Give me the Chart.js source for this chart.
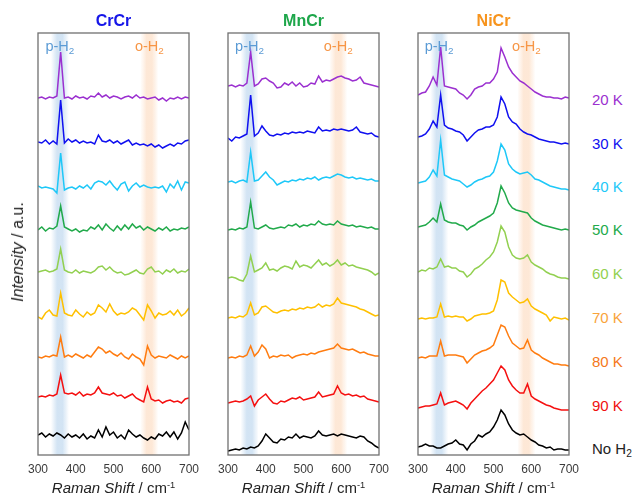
<!DOCTYPE html>
<html>
<head>
<meta charset="utf-8">
<script src="https://cdn.jsdelivr.net/npm/chart.js@4.4.1/dist/chart.umd.min.js"></script>
<style>
  html, body { margin: 0; padding: 0; background: #fff; }
  #wrap { position: relative; width: 633px; height: 495px; overflow: hidden; font-family: "Liberation Sans", Arial, sans-serif; }
  #wrap canvas { position: absolute; top: 0; }
  .txt { position: absolute; white-space: nowrap; line-height: 1; transform: translate(-50%, -50%); }
  .sb { font-size: 0.68em; position: relative; top: 0.28em; }
  .sp { font-size: 0.62em; position: relative; top: -0.5em; }
</style>
</head>
<body>
<div id="wrap">
  <canvas id="p0" width="191" height="495" style="left:18px"></canvas>
  <canvas id="p1" width="191" height="495" style="left:208px"></canvas>
  <canvas id="p2" width="191" height="495" style="left:398px"></canvas>
</div>
<script>
'use strict';

// Raman shift (cm-1), shared by every spectrum
const ramanShift = [300, 310, 320, 330, 340, 350, 360, 370, 380, 390, 400, 410, 420, 430, 440, 450, 460, 470, 480, 490,
    500, 510, 520, 530, 540, 550, 560, 570, 580, 590, 600, 610, 620, 630, 640, 650, 660, 670, 680, 690, 700];

// CrCr spectra (intensity above each trace's own baseline)
const crcr20K = [0, 1, -1, 1, 0, 2, 46, 0, 1, -1, 2, 0, 1, -1, 2, 1, 5, 1, 3, 0, 2, 1, -1, 1, 2, 0, 3, 0, 1, -1, 0, 1, -2, 0, -3, 0, -1, 1, -1, 1, 0];
const crcr30K = [1, 0, 3, -1, 2, -1, 43, 0, 4, 1, 3, 0, 2, 0, 1, -1, 8, 2, 1, 3, 0, 2, -1, 1, 3, -2, 0, -2, -1, -3, -1, -4, -2, -5, -3, -1, -3, 0, -1, 2, 3];
const crcr40K = [2, 0, 1, 0, -1, -5, 35, -2, 0, 1, -1, 2, 0, 3, -1, 5, 7, 6, 3, 7, 2, -2, 4, 6, -3, 2, 5, 1, 3, 1, 0, 1, 0, 2, -4, 4, 0, 7, -2, 6, 5];
const crcr50K = [0, 3, -1, 2, 1, 4, 24, 3, 1, -1, 1, -2, 0, -1, 3, 1, 5, 0, 6, 2, -1, 4, 0, 5, 1, 6, 2, 4, 0, 3, 1, -1, 2, 0, 3, -1, 1, 0, 2, 1, 3];
const crcr60K = [0, 1, 2, 0, 1, 3, 23, 2, 0, -1, 2, -1, 1, 0, -1, 1, 5, 6, 2, 5, 1, -1, 0, -3, -2, 0, 2, -1, -2, 3, 5, 0, 1, -2, 2, 0, 3, -1, 1, 0, 3];
const crcr70K = [-2, -4, 2, 5, 0, -1, 22, 2, 0, -1, 5, 1, -2, 3, 0, 2, 10, 7, 3, 11, 4, 0, 2, 1, 3, 7, 5, 0, -5, 10, 4, -3, 2, 0, 1, 4, 0, 5, -1, 2, 7];
const crcr80K = [0, -1, 1, 0, 2, 1, 20, 0, 2, 0, 3, 1, -1, 2, 0, 5, 10, 8, 4, 6, 3, 1, 4, 0, -2, 3, 0, -2, -8, 11, 2, -1, 1, 0, -1, 2, 0, -2, 1, -1, 1];
const crcr90K = [0, 1, 0, 2, 1, 3, 22, 4, 3, 4, 2, 5, 1, 3, 2, 4, 10, 4, 3, 2, 4, 1, 2, -1, 1, 3, -1, -3, -5, 10, -2, -4, -3, -6, -4, -3, -5, -4, -6, -2, -1];
const crcrNoH2 = [0, 2, -2, 1, -1, 2, 0, -3, 1, -2, 0, -3, 1, -4, -1, -3, 5, -2, 8, 0, 3, -3, 0, -4, 5, 1, -2, 0, -3, -5, -2, -4, 1, -1, 3, -2, 3, -4, 2, 13, 5];
const crcrOffset = [357, 312, 267, 225, 183, 140, 98, 58, 20];

// MnCr spectra
const mncr20K = [0, 1, -1, 1, 0, 3, 34, 0, 2, 7, 8, 5, 3, -2, -1, 3, 1, 4, 0, 3, -1, 0, 3, 2, 10, 4, 6, 5, 7, 9, 10, 8, 7, 5, 6, 9, 3, 2, 1, 0, -1];
const mncr30K = [0, -3, 1, 0, 2, 4, 43, 2, 5, 12, 7, 3, 2, 4, 3, 5, 4, 6, 5, 6, 5, 7, 6, 5, 11, 7, 8, 7, 9, 8, 9, 8, 7, 8, 11, 6, 5, 4, 5, 2, 1];
const mncr40K = [0, 1, -1, 1, 2, 0, 30, 1, 2, 6, 10, 5, 2, -3, -1, 1, 0, 2, 1, 3, 2, 4, 3, 5, 2, 4, 5, 4, 6, 8, 7, 5, 4, 5, 3, 4, 3, 2, 3, 1, 1];
const mncr50K = [0, 1, 0, 2, 1, 3, 28, 2, 1, 3, 5, 2, 1, 2, 3, 2, 5, 4, 6, 3, 5, 4, 6, 5, 9, 6, 5, 6, 5, 9, 6, 5, 4, 5, 3, 4, 3, 2, 3, 1, 1];
const mncr60K = [0, 1, 0, -2, -3, 4, 22, 6, 8, 10, 15, 8, 9, 7, 10, 12, 11, 9, 17, 11, 13, 12, 10, 14, 18, 13, 15, 12, 14, 18, 13, 15, 12, 13, 11, 10, 9, 8, 6, 3, 5];
const mncr70K = [0, 1, 0, 2, 1, 4, 15, 3, 5, 11, 12, 9, 6, 5, 7, 8, 7, 9, 8, 10, 9, 11, 10, 11, 14, 11, 13, 12, 14, 20, 15, 14, 13, 12, 11, 9, 8, 6, 4, 2, 3];
const mncr80K = [0, 1, 0, 2, 1, 3, 12, 2, 6, 13, 9, 0, 2, 1, 3, 2, 3, 0, 2, 3, 4, 3, 5, 4, 6, 7, 8, 9, 10, 14, 10, 9, 8, 9, 7, 5, 6, 4, 3, 2, 2];
const mncr90K = [0, 1, 2, 1, 2, 4, 7, -3, 3, 6, 9, 4, 0, -1, 2, 1, 3, 5, 4, 6, 3, 4, 5, 6, 11, 6, 7, 8, 9, 17, 10, 8, 9, 7, 8, 6, 7, 4, 3, 2, 1];
const mncrNoH2 = [0, 1, 2, 1, 3, 2, 4, 3, 5, 10, 17, 13, 9, 8, 12, 11, 14, 13, 17, 13, 15, 14, 13, 15, 20, 16, 15, 16, 17, 15, 17, 16, 15, 14, 13, 15, 14, 10, 8, 5, 3];
const mncrOffset = [369, 317, 273, 225, 177, 137, 97, 52, 4];

// NiCr spectra
const nicr20K = [0, 2, 3, 9, 18, 10, 48, 9, 8, 7, 6, 2, 0, -4, 0, 6, 8, 9, 12, 12, 16, 23, 47, 38, 28, 22, 18, 14, 12, 9, 6, 3, 1, -1, -2, -2, -3, -3, -4, -2, -3];
const nicr30K = [0, 1, 3, 8, 16, 10, 42, 12, 9, 8, 6, 5, 2, -4, 0, 4, 7, 8, 10, 10, 12, 20, 40, 33, 20, 15, 13, 8, 5, 3, 2, 0, -2, -3, -4, -5, -5, -6, -7, -6, -7];
const nicr40K = [0, 1, 2, 6, 13, 7, 43, 8, 6, 4, 3, 2, -1, -4, -2, 1, 3, 4, 6, 7, 11, 22, 39, 33, 19, 14, 11, 9, 10, 11, 8, 4, 3, 1, -1, -3, -4, -5, -6, -6, -7];
const nicr50K = [0, 1, 2, 5, 9, 5, 23, 7, 5, 4, 4, 2, 1, -3, 0, 2, 5, 7, 9, 11, 14, 24, 41, 34, 24, 19, 17, 16, 15, 14, 9, 6, 4, 2, 1, 0, -1, -2, -3, -2, -3];
const nicr60K = [0, 2, 1, 4, 3, 5, 13, 5, 6, 4, 4, 1, 0, -5, -2, 3, 5, 8, 12, 15, 20, 30, 46, 40, 25, 17, 14, 13, 14, 17, 10, 7, 5, 3, 0, -2, -3, -5, -6, -6, -7];
const nicr70K = [0, 1, 0, 1, 1, 2, 15, 2, 3, 2, 3, 2, 2, -2, 0, 3, 4, 5, 5, 6, 8, 19, 39, 37, 26, 22, 19, 16, 17, 20, 13, 10, 8, 6, 4, -2, 2, 1, 0, 1, -1];
const nicr80K = [0, 1, 0, 2, 2, 2, 17, 2, 3, 3, 3, 2, 1, -5, -1, 3, 5, 7, 8, 10, 13, 23, 33, 31, 22, 15, 12, 9, 10, 18, 8, 5, 3, 0, -2, -4, -6, -6, -7, -7, -8];
const nicr90K = [0, 1, 2, 2, 3, 4, 15, 3, 5, 6, 7, 5, 3, -1, 5, 9, 13, 17, 20, 24, 28, 35, 42, 38, 28, 22, 18, 15, 15, 24, 12, 9, 7, 5, 3, 2, 0, -1, -2, -2, -2];
const nicrNoH2 = [0, 1, 3, 1, 1, -1, -1, 1, 3, 4, 7, 3, 2, -3, 3, 6, 12, 10, 13, 15, 20, 27, 37, 32, 23, 17, 14, 12, 13, 10, 7, 5, 2, 1, -1, 0, -3, -2, -2, -3, -3];
const nicrOffset = [360, 318, 272, 228, 183, 136, 97, 47, 8];

const temps = ['20 K', '30 K', '40 K', '50 K', '60 K', '70 K', '80 K', '90 K', 'No H<span class="sb">2</span>'];
const traceColors = ['#9b30d0', '#1010f0', '#1ec8f8', '#22aa4b', '#92d050', '#ffc000', '#ff7c10', '#f51010', '#000000'];
const labelColors = ['#9b30d0', '#1010f0', '#1ec8f8', '#22aa4b', '#92d050', '#f9a43c', '#f57820', '#f01010', '#222222'];
const labelLevels = [356, 312, 269, 226, 182, 138, 94, 50, 6];

const panelNames = ['CrCr', 'MnCr', 'NiCr'];
const panelColors = ['#1515e8', '#1da64a', '#f7941d'];
const paraBands = [[334, 382], [333, 381], [332, 380]];
const orthoBands = [[571, 619], [568, 616], [563, 611]];

const panels = [
    { id: 'p0', series: [crcr20K, crcr30K, crcr40K, crcr50K, crcr60K, crcr70K, crcr80K, crcr90K, crcrNoH2], offset: crcrOffset },
    { id: 'p1', series: [mncr20K, mncr30K, mncr40K, mncr50K, mncr60K, mncr70K, mncr80K, mncr90K, mncrNoH2], offset: mncrOffset },
    { id: 'p2', series: [nicr20K, nicr30K, nicr40K, nicr50K, nicr60K, nicr70K, nicr80K, nicr90K, nicrNoH2], offset: nicrOffset },
];

// soft vertical bands for p-H2 / o-H2, plus the panel frame
const bandPlugin = {
    id: 'bands',
    beforeDatasetsDraw(chart, args, opts) {
        const { ctx, chartArea: a, scales: { x } } = chart;
        ctx.save();
        opts.bands.forEach(b => {
            const x0 = x.getPixelForValue(b.range[0]);
            const x1 = x.getPixelForValue(b.range[1]);
            const g = ctx.createLinearGradient(x0, 0, x1, 0);
            g.addColorStop(0, b.color + '0)');
            g.addColorStop(0.35, b.color + b.alpha + ')');
            g.addColorStop(0.65, b.color + b.alpha + ')');
            g.addColorStop(1, b.color + '0)');
            ctx.fillStyle = g;
            ctx.fillRect(x0, a.top, x1 - x0, a.bottom - a.top);
        });
        ctx.restore();
    },
    afterDatasetsDraw(chart) {
        const { ctx, chartArea: a } = chart;
        ctx.save();
        ctx.strokeStyle = '#707070';
        ctx.lineWidth = 1.3;
        ctx.strokeRect(a.left, a.top, a.right - a.left, a.bottom - a.top);
        ctx.restore();
    }
};

const charts = panels.map((panel, p) => new Chart(document.getElementById(panel.id), {
    type: 'line',
    data: {
        datasets: panel.series.map((s, k) => ({
            label: temps[k],
            data: ramanShift.map((x, i) => ({ x: x, y: panel.offset[k] + s[i] })),
            borderColor: traceColors[k],
            borderWidth: 1.5,
            pointRadius: 0,
            fill: false,
            tension: 0
        }))
    },
    options: {
        responsive: false,
        animation: false,
        layout: { padding: { left: 20, right: 20, top: 33, bottom: 0 } },
        plugins: {
            legend: { display: false },
            tooltip: { enabled: false },
            bands: {
                bands: [
                    { range: paraBands[p], color: 'rgba(91,155,213,', alpha: 0.27 },
                    { range: orthoBands[p], color: 'rgba(247,150,70,', alpha: 0.22 }
                ]
            }
        },
        scales: {
            x: {
                type: 'linear',
                min: 300,
                max: 700,
                grid: { display: false, drawTicks: false },
                border: { display: false },
                ticks: {
                    stepSize: 100,
                    autoSkip: false,
                    maxRotation: 0,
                    padding: 7,
                    color: '#3a3a3a',
                    font: { family: 'Liberation Sans', size: 12 }
                },
                afterFit(scale) { scale.height = 40; }
            },
            y: { display: false, min: 0, max: 422 }
        }
    },
    plugins: [bandPlugin]
}));

// text overlays
const wrap = document.getElementById('wrap');
function addText(html, left, top, css) {
    const d = document.createElement('div');
    d.className = 'txt';
    d.innerHTML = html;
    d.style.left = left + 'px';
    d.style.top = top + 'px';
    Object.assign(d.style, css || {});
    wrap.appendChild(d);
}

charts.forEach((chart, p) => {
    const a = chart.chartArea;
    const x = chart.scales.x;
    const ox = chart.canvas.offsetLeft;
    const cx = ox + (a.left + a.right) / 2;
    addText(panelNames[p], cx, 21, { fontWeight: 'bold', fontSize: '16px', color: panelColors[p] });
    const pc = ox + x.getPixelForValue((paraBands[p][0] + paraBands[p][1]) / 2);
    const oc = ox + x.getPixelForValue((orthoBands[p][0] + orthoBands[p][1]) / 2);
    addText('p-H<span class="sb">2</span>', pc, 46, { fontSize: '14.5px', color: '#5b9bd5' });
    addText('o-H<span class="sb">2</span>', oc, 46, { fontSize: '14.5px', color: '#f79646' });
    addText('<i>Raman Shift</i> / cm<span class="sp">-1</span>', cx, 488, { fontSize: '15px', color: '#222' });
});

const yScale = charts[2].scales.y;
temps.forEach((t, k) => {
    addText(t, 592, yScale.getPixelForValue(labelLevels[k]), {
        fontSize: '15px', color: labelColors[k], transform: 'translate(0, -50%)'
    });
});

addText('<i>Intensity</i> / a.u.', 18, 252, {
    fontSize: '16px', color: '#222', transform: 'translate(-50%, -50%) rotate(-90deg)'
});
</script>
</body>
</html>
